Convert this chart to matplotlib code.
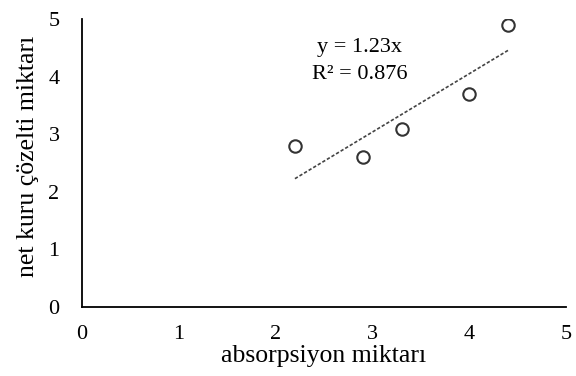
import matplotlib.pyplot as plt
import numpy as np

plt.rcParams['font.family'] = ['Liberation Serif', 'DejaVu Serif']

# veriler
absorpsiyon = [2.2, 2.9, 3.3, 4.0, 4.4]
net_kuru = [2.8, 2.6, 3.1, 3.7, 4.9]
eksen_ticks = [0, 1, 2, 3, 4, 5]

x = np.array(absorpsiyon)
y = np.array(net_kuru)

# orijinden gecen egilim cizgisi
egim = np.sum(x * y) / np.sum(x * x)
x_line = np.array([x.min(), x.max()])

fig = plt.figure(figsize=(5.76, 3.76), dpi=100)
ax = fig.add_axes([0.142, 0.1835, 0.841, 0.7655])

ax.plot(x_line, egim * x_line, linestyle=(0, (2, 1.2)), color='#444444', linewidth=1.2)
ax.scatter(x, y, s=80, facecolors='white', edgecolors='#333333', linewidths=1.5, zorder=3)

ax.text(2.87, 4.5, 'y = 1.23x', fontsize=16, ha='center', va='center')
ax.text(2.87, 4.04, 'R² = 0.876', fontsize=16, ha='center', va='center')

ax.set_xlim(0, 5)
ax.set_ylim(0, 5)
ax.set_xticks(eksen_ticks)
ax.set_yticks(eksen_ticks)
ax.tick_params(length=0, labelsize=16)
ax.tick_params(axis='y', pad=16)
ax.tick_params(axis='x', pad=13)
ax.spines['top'].set_visible(False)
ax.spines['right'].set_visible(False)
ax.spines['left'].set_linewidth(1.3)
ax.spines['bottom'].set_linewidth(1.3)

ax.set_xlabel('absorpsiyon miktarı', fontsize=18.5, labelpad=1)
ax.set_ylabel('net kuru çözelti miktarı', fontsize=18.5)
ax.yaxis.set_label_coords(-0.088, 0.524)

plt.savefig('out.png', dpi=100)
